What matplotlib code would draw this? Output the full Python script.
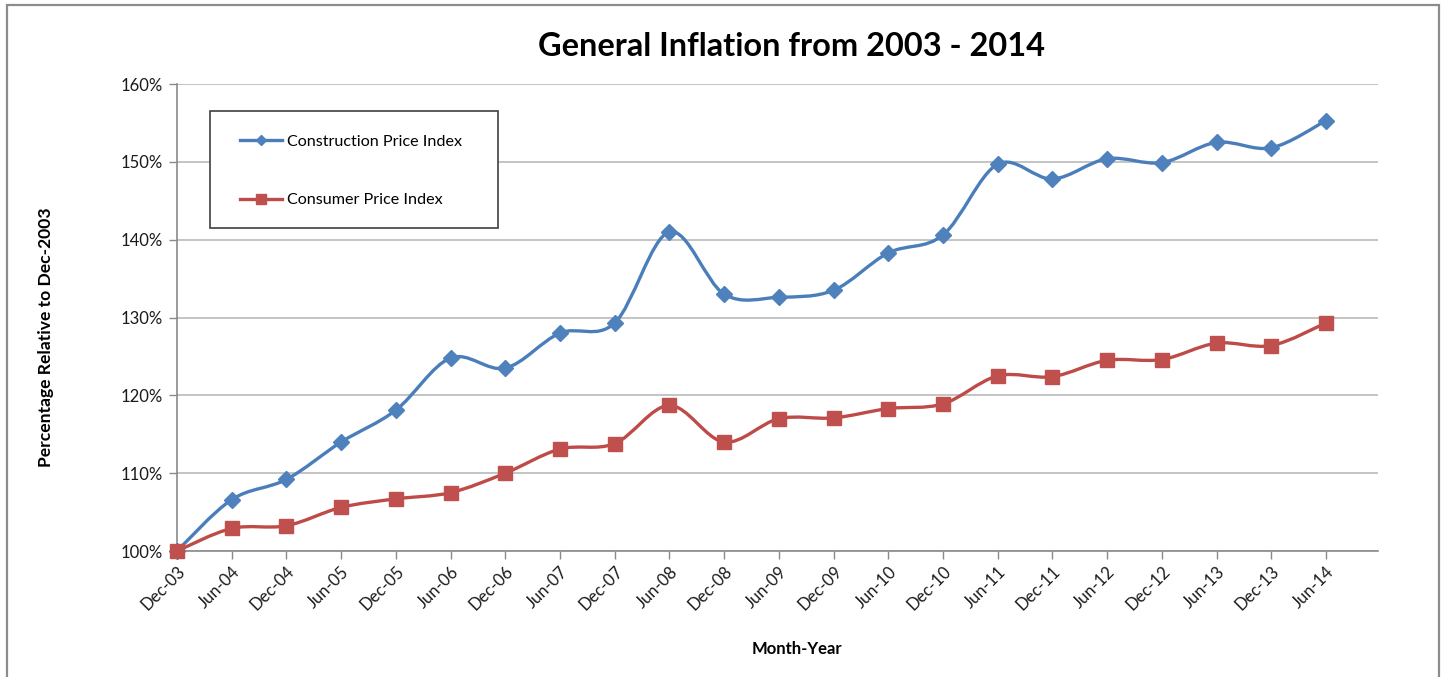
import matplotlib.pyplot as plt
from matplotlib.path import Path
from matplotlib.patches import PathPatch, Rectangle
from matplotlib.lines import Line2D
import numpy as np

months = ['Dec-03', 'Jun-04', 'Dec-04', 'Jun-05', 'Dec-05', 'Jun-06', 'Dec-06',
          'Jun-07', 'Dec-07', 'Jun-08', 'Dec-08', 'Jun-09', 'Dec-09', 'Jun-10',
          'Dec-10', 'Jun-11', 'Dec-11', 'Jun-12', 'Dec-12', 'Jun-13', 'Dec-13', 'Jun-14']

construction = [100.0, 106.6, 109.2, 114.0, 118.1, 124.8, 123.5, 128.0, 129.3, 141.0,
                133.0, 132.6, 133.5, 138.3, 140.6, 149.7, 147.8, 150.4, 149.9, 152.5,
                151.8, 155.3]
consumer = [100.0, 102.9, 103.25, 105.6, 106.7, 107.5, 110.0, 113.1, 113.8, 118.7,
            114.0, 117.0, 117.1, 118.3, 118.9, 122.5, 122.4, 124.5, 124.6, 126.7,
            126.4, 129.3]

W, H = 1448, 677
plt.rcParams['font.family'] = ['Lato', 'DejaVu Sans']

fig = plt.figure(figsize=(W / 100, H / 100), dpi=100)
ax = fig.add_axes([177 / W, 1 - 551 / H, (1378 - 177) / W, (551 - 84) / H])


def smooth_path(xs, ys):
    # Excel-style smoothed line: cubic Bezier segments (Catmull-Rom tangents)
    pts = np.column_stack([xs, ys]).astype(float)
    n = len(pts)
    verts = [pts[0]]
    codes = [Path.MOVETO]
    for i in range(n - 1):
        p0 = pts[max(i - 1, 0)]
        p1 = pts[i]
        p2 = pts[i + 1]
        p3 = pts[min(i + 2, n - 1)]
        verts += [p1 + (p2 - p0) / 6, p2 - (p3 - p1) / 6, p2]
        codes += [Path.CURVE4] * 3
    return Path(verts, codes)


x = np.arange(len(months))
series = [
    (construction, '#4a7ebb', '#4f81bd', 'D', 8.2, 'Construction Price Index'),
    (consumer, '#be4b48', '#c0504d', 's', 10.5, 'Consumer Price Index'),
]
handles = []
for vals, lc, mc, mk, ms, label in series:
    ax.add_patch(PathPatch(smooth_path(x, vals), facecolor='none', edgecolor=lc,
                           lw=2.4, zorder=3, capstyle='round', joinstyle='round'))
    ax.plot(x, vals, linestyle='none', marker=mk, ms=ms, color=mc,
            markeredgecolor=mc, zorder=4, clip_on=False)
    handles.append(Line2D([], [], color=lc, lw=2.4, marker=mk, ms=ms * 0.62,
                          markerfacecolor=mc, markeredgecolor=mc))

step = (1326 - 177) / (len(months) - 1)
ax.set_xlim(0, (1378 - 177) / step)
ax.set_ylim(100, 160)
ax.set_yticks(range(100, 161, 10))
ax.set_yticklabels([f'{v}%' for v in range(100, 161, 10)])
ax.set_xticks(x)
ax.set_xticklabels(months, rotation=45, ha='right', va='top', rotation_mode='anchor')

ax.grid(axis='y', color='#bfbfbf', lw=1.3)
ax.set_axisbelow(True)
for s in ['top', 'right']:
    ax.spines[s].set_visible(False)
for s in ['left', 'bottom']:
    ax.spines[s].set_color('#8a8a8a')
    ax.spines[s].set_linewidth(1.2)
ax.tick_params(axis='both', colors='#8a8a8a', labelcolor='#1a1a1a', length=6,
               width=1.0, labelsize=12)
ax.tick_params(axis='x', pad=3)
ax.tick_params(axis='y', pad=4)

fig.text(791 / W, 1 - 47 / H, 'General Inflation from 2003 - 2014', ha='center',
         va='center', fontsize=23.4, fontweight='bold')
fig.text(46 / W, 1 - 337 / H, 'Percentage Relative to Dec-2003', ha='center',
         va='center', rotation=90, fontsize=12.6, fontweight='bold')
fig.text(797 / W, 1 - 649 / H, 'Month-Year', ha='center', va='center',
         fontsize=12, fontweight='bold')

# legend box
fig.patches.append(Rectangle((210 / W, 1 - 228 / H), (498 - 210) / W, (228 - 111) / H,
                             transform=fig.transFigure, facecolor='white',
                             edgecolor='#404040', lw=1.2, zorder=5))
leg = fig.legend(handles, [s[5] for s in series], loc='upper left',
                 bbox_to_anchor=(226 / W, 1 - 120 / H), frameon=False,
                 fontsize=11.6, handlelength=2.6, handletextpad=0.3,
                 labelspacing=2.75)
leg.set_zorder(6)

# outer chart border
fig.patches.append(Rectangle((7 / W, -0.05), (1439 - 7) / W, (677 - 5) / H + 0.05,
                             transform=fig.transFigure, fill=False,
                             edgecolor='#8c8c8c', lw=1.6))

fig.savefig('out.png', dpi=100)
